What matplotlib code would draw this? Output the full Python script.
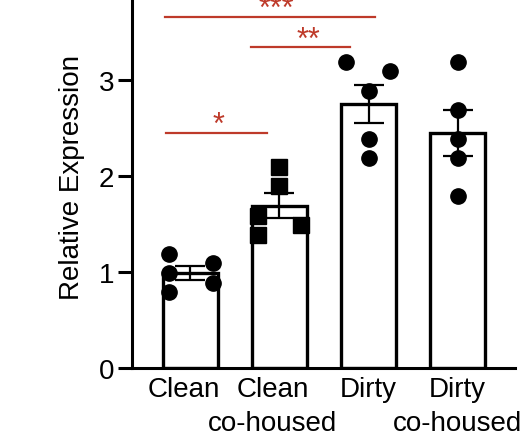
import numpy as np
import matplotlib
matplotlib.use('Agg')
import matplotlib.pyplot as plt
from matplotlib.transforms import ScaledTranslation

plt.rcParams['font.family'] = ['Liberation Sans', 'DejaVu Sans']

RED = '#BE3A2A'

# groups and values
groups = ['Clean', 'Clean\nco-housed', 'Dirty', 'Dirty\nco-housed']
means = [0.99, 1.69, 2.75, 2.45]
sems = [0.07, 0.13, 0.20, 0.24]

clean = [1.19, 0.99, 0.79, 1.09, 0.89]
clean_co = [2.09, 1.90, 1.58, 1.39, 1.49]
dirty = [3.19, 3.09, 2.89, 2.39, 2.19]
dirty_co = [3.19, 2.69, 2.39, 2.19, 1.79]
markers = ['o', 's', 'o', 'o']

# horizontal spread of the dots (swarm layout)
spread = [[-0.24, -0.24, -0.24, 0.25, 0.25],
          [0.0, 0.0, -0.24, -0.24, 0.24],
          [-0.25, 0.24, 0.0, 0.0, 0.0],
          [0.0, 0.0, 0.0, 0.0, 0.0]]

# significance bars: (x start, x end, y, label, label x)
sig = [(-0.27, 0.86, 2.45, '*', 0.31),
       (0.68, 1.79, 3.34, '**', 1.32),
       (-0.29, 2.07, 3.66, '***', 0.96)]

fig = plt.figure(figsize=(5.24, 4.39), dpi=100)
ax = fig.add_axes([0.2519, 0.1595, 0.731, 0.8745])

x = np.arange(len(groups))
ax.bar(x, means, width=0.62, color='white', edgecolor='black', linewidth=2.4, zorder=1)
ax.errorbar(x, means, yerr=sems, fmt='none', ecolor='black', elinewidth=1.6,
            capsize=10.5, capthick=1.6, zorder=2)

for i, pts in enumerate([clean, clean_co, dirty, dirty_co]):
    ax.plot(i + np.array(spread[i]), pts, linestyle='none', marker=markers[i],
            markersize=11 if markers[i] == 'o' else 11.5, color='black', zorder=3)

for x0, x1, y, lab, xl in sig:
    ax.plot([x0, x1], [y, y], color=RED, linewidth=1.6, clip_on=False)
    ax.text(xl, y, lab, color=RED, fontsize=22, ha='center', va='baseline')

ax.set_xlim(-0.657, 3.646)
ax.set_ylim(0, 4)
ax.set_yticks([0, 1, 2, 3])
ax.set_xticks(x)
ax.set_xticklabels(groups, fontsize=20, linespacing=1.38)
ax.tick_params(axis='x', length=0, pad=6)
ax.tick_params(axis='y', length=10, width=2.2, labelsize=20, pad=3)
ax.set_ylabel('Relative Expression', fontsize=20, labelpad=10)

# first two labels sit a little to the left in the original
for lbl in ax.get_xticklabels()[:2]:
    lbl.set_transform(lbl.get_transform() + ScaledTranslation(-5 / 72, 0, fig.dpi_scale_trans))

for s in ['top', 'right']:
    ax.spines[s].set_visible(False)
for s in ['left', 'bottom']:
    ax.spines[s].set_linewidth(2.2)

fig.savefig('out.png', dpi=100)
